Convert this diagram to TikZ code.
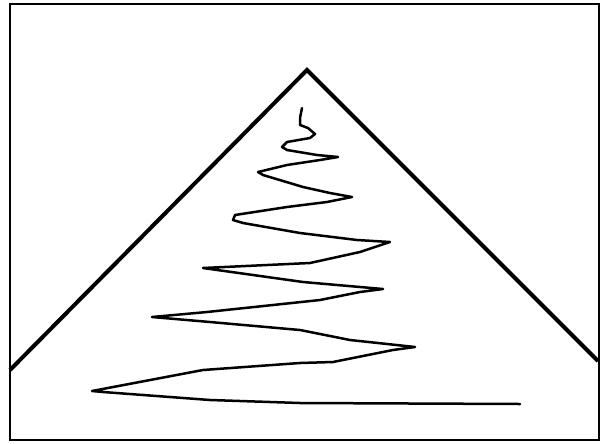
\documentclass[tikz,border=0pt]{standalone}
\usepackage{tikz}
\tikzset{frameline/.style={black,line width=0.6mm},
  roofline/.style={black,line width=2mm,line join=miter},
  scribble/.style={black,line width=1.25mm,line join=round,line cap=round}}

\begin{document}
\begin{tikzpicture}[x=0.5mm,y=-0.5mm]
\useasboundingbox (0,0) rectangle (605,443);
\draw[frameline] (10,4) rectangle (599,440);
\coordinate (roofL) at (10,370);
\coordinate (apex) at (307,70);
\coordinate (roofR) at (598,361);
\draw[roofline] (roofL) -- (apex) -- (roofR);
\draw[scribble] (302,108) -- (300,118) -- (300,125) -- (308,128) -- (315,134) -- (310,138)
  -- (287,142) -- (282,147) -- (287,150) -- (317,155) -- (338,157)
  -- (320,160) -- (287,165) -- (258,172) -- (263,175) -- (303,187) -- (330,193) -- (352,197)
  -- (327,202) -- (287,207) -- (235,215) -- (233,220) -- (243,223) -- (300,233) -- (357,240) -- (390,242)
  -- (360,252) -- (310,263) -- (203,268)
  -- (303,282) -- (360,287) -- (383,289)
  -- (360,292) -- (320,300) -- (207,312) -- (152,317)
  -- (210,322) -- (300,330) -- (350,340) -- (415,347)
  -- (393,350) -- (333,362) -- (300,363) -- (203,370) -- (92,391)
  -- (103,392) -- (210,400) -- (300,403) -- (520,404);
\end{tikzpicture}
\end{document}
